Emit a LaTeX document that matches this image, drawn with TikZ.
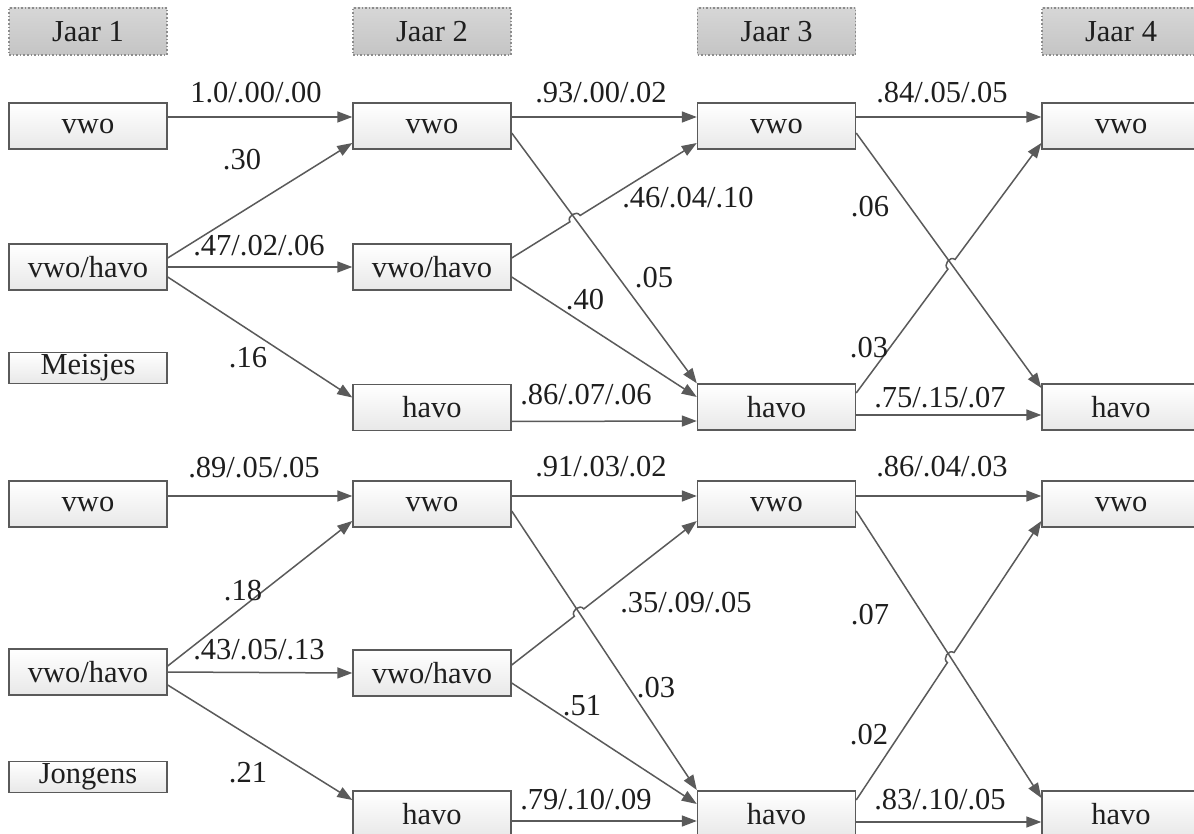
\documentclass[tikz,border=0pt]{standalone}
\usepackage{fontspec}
\setmainfont{Liberation Serif}
\usetikzlibrary{arrows.meta,calc,intersections}
\definecolor{boxline}{HTML}{5A5A5A}
\definecolor{txt}{HTML}{1E1E1E}
\definecolor{conline}{HTML}{5A5A5A}
\begin{document}
\begin{tikzpicture}[x=1pt,y=-1pt,
  every node/.style={font=\fontsize{30.5}{36}\selectfont,text=txt},
  box/.style={draw=boxline,line width=1.4pt,top color=white,bottom color=black!9,
    minimum width=158pt,minimum height=46pt,inner sep=0pt},
  smallbox/.style={box,minimum height=31pt},
  header/.style={draw=black!45,dotted,line width=1.6pt,top color=black!16,bottom color=black!23,
    minimum width=158pt,minimum height=47pt,inner sep=0pt},
  conn/.style={draw=conline,line width=1.5pt,-{Triangle[length=15pt,width=11pt]}},
  lbl/.style={inner sep=0pt},
  hop/.style={bend left=90,looseness=1.4}]
\fill[white] (0,0) rectangle (1194,834);
\useasboundingbox (0,0) rectangle (1194,834);
\clip (0,0) rectangle (1194,834);

% headers
\node[header] (H1) at (88,31.5) {Jaar 1};
\node[header] (H2) at (432,31.5) {Jaar 2};
\node[header] (H3) at (776.5,31.5) {Jaar 3};
\node[header] (H4) at (1121,31.5) {Jaar 4};

% ---------- Meisjes ----------
\node[box] (A1) at (88,126) {vwo};
\node[box] (B1) at (88,267) {vwo/havo};
\node[smallbox] (M) at (88,368) {Meisjes};
\node[box] (A2) at (432,126) {vwo};
\node[box] (B2) at (432,267) {vwo/havo};
\node[box] (C2) at (432,407.5) {havo};
\node[box] (A3) at (776.5,126) {vwo};
\node[box] (C3) at (776.5,407) {havo};
\node[box] (A4) at (1121,126) {vwo};
\node[box] (C4) at (1121,407) {havo};

\draw[conn] ([yshift=9pt]A1.east) -- ([yshift=9pt]A2.west);
\draw[conn] ([yshift=9pt]B1.east) -- ([yshift=-17pt]A2.west);
\draw[conn] (B1.east) -- (B2.west);
\draw[conn] ([yshift=-10pt]B1.east) -- ([yshift=10pt]C2.west);
\draw[conn] ([yshift=9pt]A2.east) -- ([yshift=9pt]A3.west);
\draw[conn,name path=d1] ([yshift=-7pt]A2.east) -- (C3.north west);
\draw[conn] ([yshift=-10pt]B2.east) -- ([yshift=10pt]C3.west);
\draw[conn] ([yshift=-14pt]C2.east) -- ([yshift=-14pt]C3.west);
\coordinate (u1s) at ([yshift=9pt]B2.east);
\coordinate (u1e) at ([yshift=-17pt]A3.west);
\path[name path=u1] (u1s) -- (u1e);
\path[name intersections={of=d1 and u1,by=X1}];
\draw[conn] (u1s) -- ($(X1)!6pt!(u1s)$) to[hop] ($(X1)!6pt!(u1e)$) -- (u1e);
\draw[conn] ([yshift=9pt]A3.east) -- ([yshift=9pt]A4.west);
\draw[conn,name path=d2] ([yshift=-7pt]A3.east) -- ([yshift=19pt]C4.west);
\draw[conn] ([yshift=-8pt]C3.east) -- ([yshift=-8pt]C4.west);
\coordinate (u2s) at ([yshift=14pt]C3.east);
\coordinate (u2e) at ([yshift=-17pt]A4.west);
\path[name path=u2] (u2s) -- (u2e);
\path[name intersections={of=d2 and u2,by=X2}];
\draw[conn] (u2s) -- ($(X2)!6pt!(u2s)$) to[hop] ($(X2)!6pt!(u2e)$) -- (u2e);

\node[lbl] (l1) at (256,93) {1.0/.00/.00};
\node[lbl] (l2) at (242,160) {.30};
\node[lbl] (l3) at (259,246) {.47/.02/.06};
\node[lbl] (l4) at (248,358) {.16};
\node[lbl] (l5) at (601,93) {.93/.00/.02};
\node[lbl] (l6) at (688,198) {.46/.04/.10};
\node[lbl] (l7) at (654,278) {.05};
\node[lbl] (l8) at (585,300) {.40};
\node[lbl] (l9) at (586,395) {.86/.07/.06};
\node[lbl] (l10) at (942,93) {.84/.05/.05};
\node[lbl] (l11) at (870,207) {.06};
\node[lbl] (l12) at (869,348) {.03};
\node[lbl] (l13) at (940,398) {.75/.15/.07};

% ---------- Jongens ----------
\node[box] (D1) at (88,504) {vwo};
\node[box] (E1) at (88,672) {vwo/havo};
\node[smallbox] (J) at (88,777) {Jongens};
\node[box] (D2) at (432,504) {vwo};
\node[box] (E2) at (432,673) {vwo/havo};
\node[box] (F2) at (432,814) {havo};
\node[box] (D3) at (776.5,504) {vwo};
\node[box] (F3) at (776.5,814) {havo};
\node[box] (D4) at (1121,504) {vwo};
\node[box] (F4) at (1121,814) {havo};

\draw[conn] ([yshift=8pt]D1.east) -- ([yshift=8pt]D2.west);
\draw[conn] ([yshift=6pt]E1.east) -- ([yshift=-17pt]D2.west);
\draw[conn] (E1.east) -- (E2.west);
\draw[conn] ([yshift=-13pt]E1.east) -- ([yshift=14pt]F2.west);
\draw[conn] ([yshift=8pt]D2.east) -- ([yshift=8pt]D3.west);
\draw[conn,name path=d3] ([yshift=-7pt]D2.east) -- ([yshift=24pt]F3.west);
\draw[conn] ([yshift=-10pt]E2.east) -- ([yshift=10pt]F3.west);
\draw[conn] ([yshift=-7pt]F2.east) -- ([yshift=-7pt]F3.west);
\coordinate (u3s) at ([yshift=8pt]E2.east);
\coordinate (u3e) at ([yshift=-17pt]D3.west);
\path[name path=u3] (u3s) -- (u3e);
\path[name intersections={of=d3 and u3,by=X3}];
\draw[conn] (u3s) -- ($(X3)!6pt!(u3s)$) to[hop] ($(X3)!6pt!(u3e)$) -- (u3e);
\draw[conn] ([yshift=8pt]D3.east) -- ([yshift=8pt]D4.west);
\draw[conn,name path=d4] ([yshift=-7pt]D3.east) -- ([yshift=16pt]F4.west);
\draw[conn] ([yshift=-8pt]F3.east) -- ([yshift=-8pt]F4.west);
\coordinate (u4s) at ([yshift=14pt]F3.east);
\coordinate (u4e) at ([yshift=-17pt]D4.west);
\path[name path=u4] (u4s) -- (u4e);
\path[name intersections={of=d4 and u4,by=X4}];
\draw[conn] (u4s) -- ($(X4)!6pt!(u4s)$) to[hop] ($(X4)!6pt!(u4e)$) -- (u4e);

\node[lbl] (m1) at (254,468) {.89/.05/.05};
\node[lbl] (m2) at (243,591) {.18};
\node[lbl] (m3) at (259,650) {.43/.05/.13};
\node[lbl] (m4) at (248,773) {.21};
\node[lbl] (m5) at (601,467) {.91/.03/.02};
\node[lbl] (m6) at (686,603) {.35/.09/.05};
\node[lbl] (m7) at (656,688) {.03};
\node[lbl] (m8) at (582,706) {.51};
\node[lbl] (m9) at (586,800) {.79/.10/.09};
\node[lbl] (m10) at (942,467) {.86/.04/.03};
\node[lbl] (m11) at (870,615) {.07};
\node[lbl] (m12) at (869,735) {.02};
\node[lbl] (m13) at (940,800) {.83/.10/.05};
\end{tikzpicture}
\end{document}
